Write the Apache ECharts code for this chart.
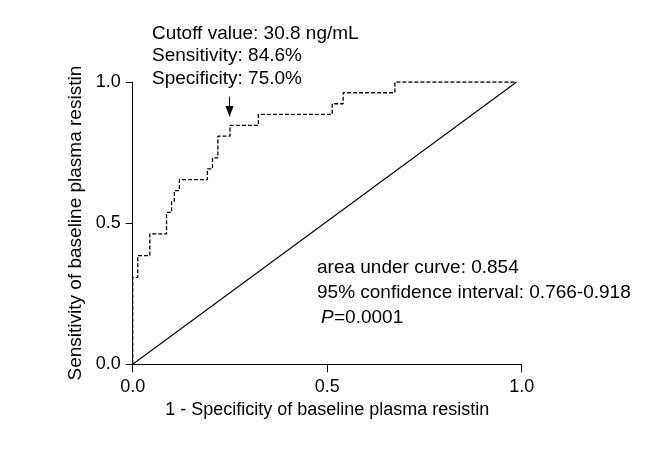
<!DOCTYPE html>
<html>
<head>
<meta charset="utf-8">
<script src="https://cdn.jsdelivr.net/npm/echarts@6/dist/echarts.min.js"></script>
<style>
html,body{margin:0;padding:0;background:#fff;}
#chart{width:648px;height:449px;}
</style>
</head>
<body>
<div id="chart"></div>
<script>
// ROC curve corner points (1 - specificity, sensitivity), drawn as steps
var rocFpr = [0, 0, 0.013, 0.044, 0.087, 0.100, 0.107, 0.120, 0.192, 0.205, 0.219, 0.250, 0.323, 0.513, 0.541, 0.674, 0.987];
var rocTpr = [0, 0.308, 0.385, 0.462, 0.538, 0.577, 0.615, 0.654, 0.692, 0.731, 0.808, 0.846, 0.885, 0.923, 0.962, 1, 1];
// reference diagonal
var diagX = [0, 0.987];
var diagY = [0, 1];
// axis ticks
var xTicks = [0, 0.5, 1];
var yTicks = [0, 0.5, 1];
// cutoff point
var cutoff = [0.25, 0.846];
var cutoffText = ['Cutoff value: 30.8 ng/mL', 'Sensitivity: 84.6%', 'Specificity: 75.0%'];
var statsText = ['area under curve: 0.854', '95% confidence interval: 0.766-0.918', '=0.0001'];

var FONT = '"Liberation Sans", Arial, sans-serif';
var chart = echarts.init(document.getElementById('chart'), null, {renderer: 'canvas'});

function pairs(xs, ys) { return xs.map(function (x, i) { return [x, ys[i]]; }); }

var option = {
  animation: false,
  backgroundColor: '#fff',
  grid: {left: 132.7, right: 126.3, top: 82, bottom: 84.7, containLabel: false},
  xAxis: {
    type: 'value', min: 0, max: 1, interval: 0.5,
    name: '1 - Specificity of baseline plasma resistin',
    nameLocation: 'middle', nameGap: 36,
    nameTextStyle: {fontFamily: FONT, fontSize: 18, color: '#000'},
    axisLine: {show: true, lineStyle: {color: '#000', width: 1}},
    axisTick: {show: true, length: 8, lineStyle: {color: '#000', width: 1}},
    axisLabel: {fontFamily: FONT, fontSize: 18, color: '#000', margin: 14,
      formatter: function (v) { return v.toFixed(1); }},
    splitLine: {show: false}
  },
  yAxis: {
    type: 'value', min: 0, max: 1, interval: 0.5,
    name: 'Sensitivity of baseline plasma resistin',
    nameLocation: 'middle', nameGap: 40,
    nameTextStyle: {fontFamily: FONT, fontSize: 19, color: '#000'},
    axisLine: {show: true, lineStyle: {color: '#000', width: 1}},
    axisTick: {show: true, length: 7, lineStyle: {color: '#000', width: 1}},
    axisLabel: {fontFamily: FONT, fontSize: 18, color: '#000', margin: 12,
      formatter: function (v) { return v.toFixed(1); }},
    splitLine: {show: false}
  },
  series: [
    {
      type: 'line', data: pairs(rocFpr, rocTpr), step: 'end',
      showSymbol: false, symbol: 'none',
      lineStyle: {color: '#000', width: 1.3, type: [4, 2]}
    },
    {
      type: 'line', data: pairs(diagX, diagY),
      showSymbol: false, symbol: 'none',
      lineStyle: {color: '#000', width: 1.1}
    }
  ]
};
chart.setOption(option);

// annotations positioned from the data coordinates
var tip = chart.convertToPixel({gridIndex: 0}, [cutoff[0], cutoff[1]]);
var ax = Math.round(tip[0]) - 0.5;
var tipY = tip[1] - 8.5;
var shaftTop = tipY - 20.5;

var graphics = [
  {type: 'line', shape: {x1: ax, y1: shaftTop, x2: ax, y2: tipY - 9}, style: {stroke: '#000', lineWidth: 1}},
  {type: 'polygon', shape: {points: [[ax - 4, tipY - 11], [ax + 4, tipY - 11], [ax, tipY]]}, style: {fill: '#000'}}
];
cutoffText.forEach(function (t, i) {
  graphics.push({type: 'text', left: 152, top: 24 + i * 22.7,
    style: {text: t, font: '19px ' + FONT, fill: '#000'}});
});
graphics.push({type: 'text', left: 317, top: 258, style: {text: statsText[0], font: '19px ' + FONT, fill: '#000'}});
graphics.push({type: 'text', left: 317, top: 283, style: {text: statsText[1], font: '19px ' + FONT, fill: '#000'}});
graphics.push({type: 'text', left: 321, top: 308, style: {text: 'P', font: 'italic 19px ' + FONT, fill: '#000'}});
graphics.push({type: 'text', left: 334, top: 308, style: {text: statsText[2], font: '19px ' + FONT, fill: '#000'}});
chart.setOption({graphic: graphics});
</script>
</body>
</html>
